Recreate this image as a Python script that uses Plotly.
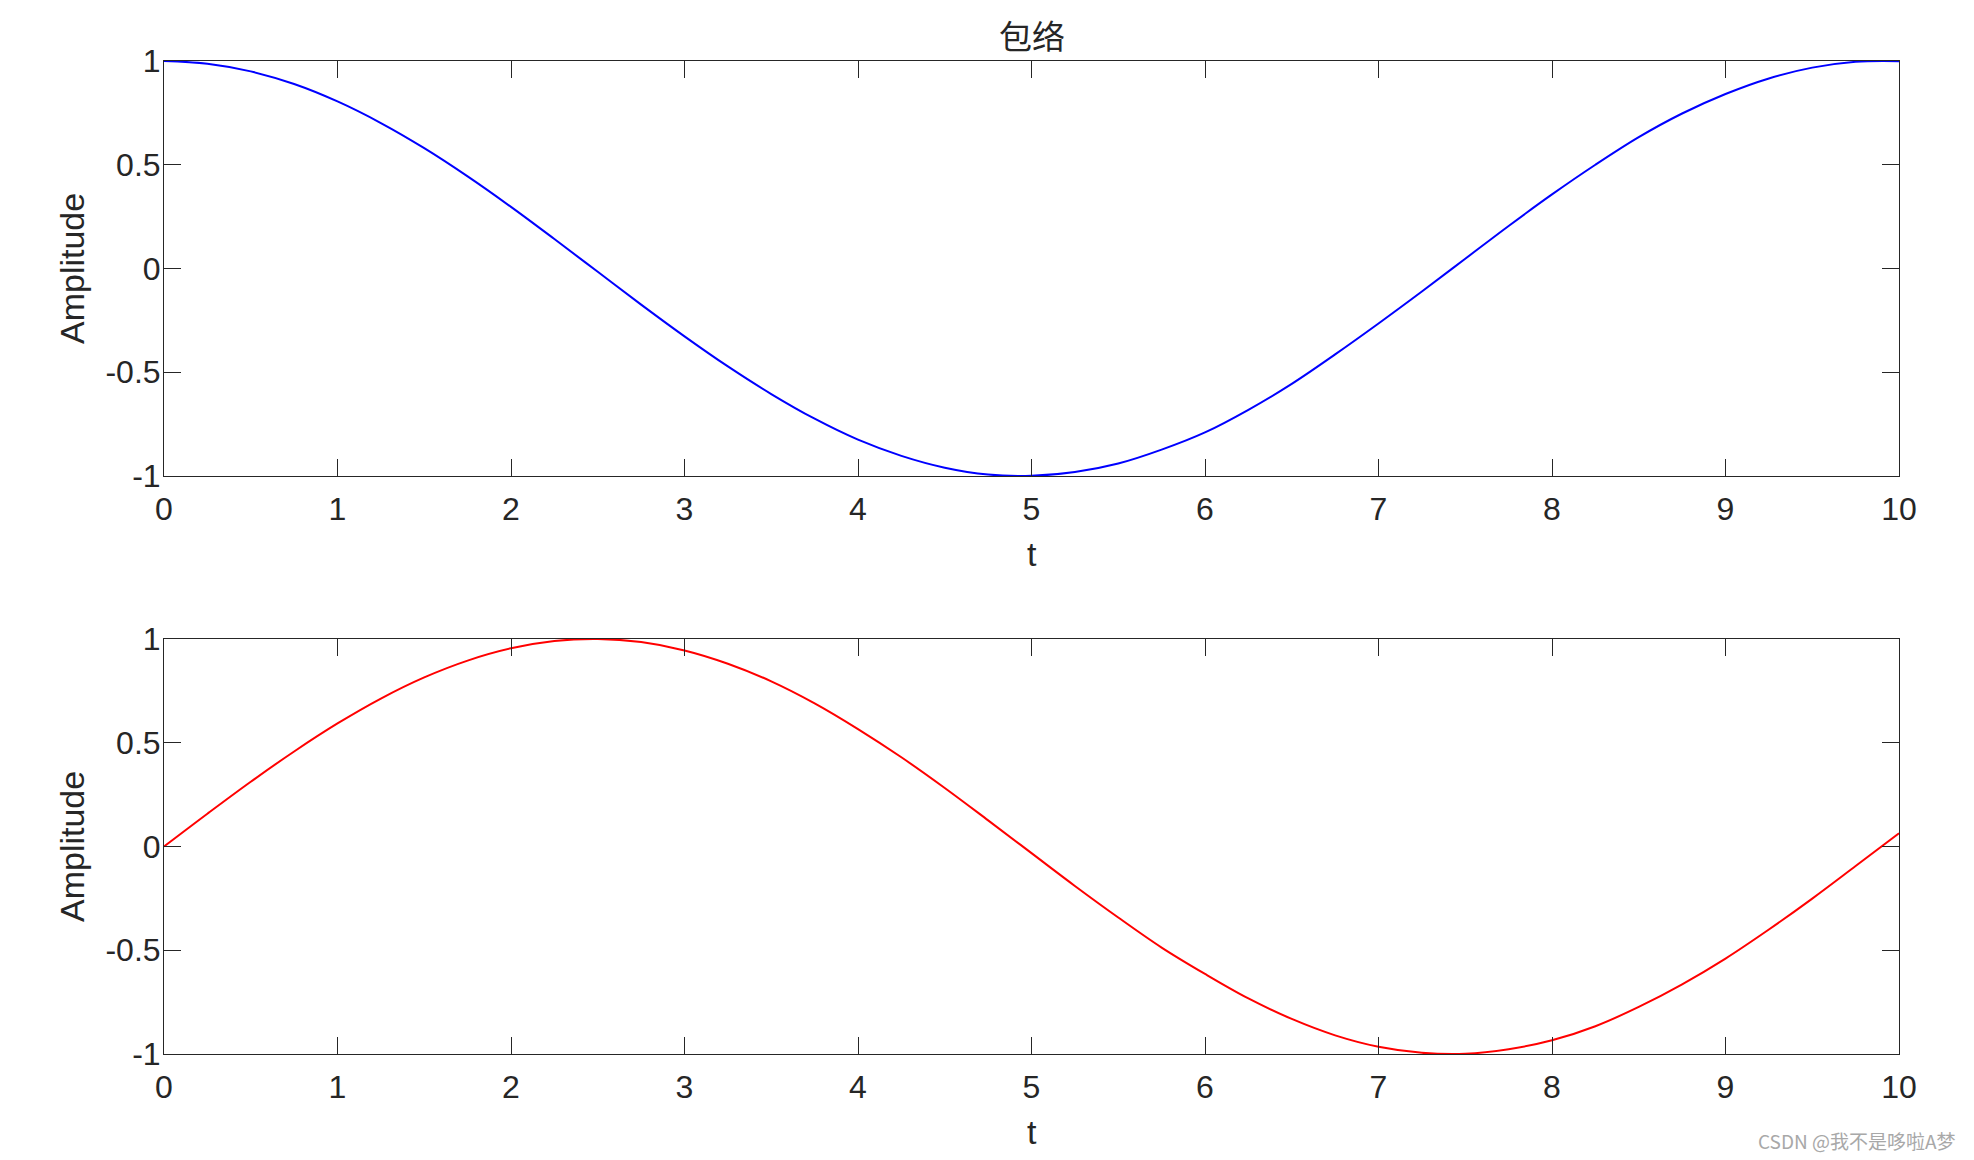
import plotly.graph_objects as go
from plotly.subplots import make_subplots

# values (t step 0.25)
t = [0, 0.25, 0.5, 0.75, 1, 1.25, 1.5, 1.75, 2, 2.25, 2.5, 2.75, 3, 3.25, 3.5, 3.75, 4, 4.25, 4.5, 4.75,
     5, 5.25, 5.5, 5.75, 6, 6.25, 6.5, 6.75, 7, 7.25, 7.5, 7.75, 8, 8.25, 8.5, 8.75, 9, 9.25, 9.5, 9.75, 10]
envelope = [1.0, 0.987, 0.950, 0.889, 0.805, 0.701, 0.580, 0.444, 0.297, 0.142, -0.016, -0.174, -0.327,
            -0.472, -0.605, -0.724, -0.825, -0.903, -0.960, -0.993, -0.999, -0.981, -0.940, -0.873, -0.790,
            -0.681, -0.556, -0.414, -0.265, -0.111, 0.047, 0.205, 0.357, 0.500, 0.633, 0.747, 0.841, 0.916,
            0.968, 0.996, 0.999]
signal = [0.0, 0.158, 0.312, 0.458, 0.593, 0.713, 0.815, 0.896, 0.955, 0.990, 1.0, 0.985, 0.945, 0.881,
          0.796, 0.690, 0.566, 0.430, 0.282, 0.126, -0.032, -0.190, -0.342, -0.487, -0.614, -0.732, -0.831,
          -0.910, -0.965, -0.994, -0.999, -0.977, -0.934, -0.866, -0.773, -0.664, -0.540, -0.400, -0.251,
          -0.094, 0.064]

x_ticks = list(range(0, 11))
y_ticks = [-1, -0.5, 0, 0.5, 1]
y_labels = ["-1", "-0.5", "0", "0.5", "1"]

# plot box in page pixels (page has 8px body margin)
OFF = 8
L, R, T, B = 164, 1899, 61, 1054
def px(x):
    return (x - L) / (R - L)
def py(y):
    return (B - y) / (B - T)

fig = make_subplots(rows=2, cols=1, vertical_spacing=py(477) - py(640))
fig.add_trace(go.Scatter(x=t, y=envelope, mode="lines", line=dict(color="#0000FF", width=2, shape="spline"),
                         showlegend=False), row=1, col=1)
fig.add_trace(go.Scatter(x=t, y=signal, mode="lines", line=dict(color="#FF0000", width=2, shape="spline"),
                         showlegend=False), row=2, col=1)

axis_font = dict(family="Arial, Liberation Sans, sans-serif", size=32, color="#262626")
label_font = dict(family="Arial, Liberation Sans, sans-serif", size=34, color="#262626")
for r in (1, 2):
    fig.update_xaxes(range=[0, 10], tickvals=x_ticks, ticks="inside", ticklen=17, tickcolor="#262626",
                     showline=True, linecolor="#262626", linewidth=1, mirror="ticks", showgrid=False,
                     zeroline=False, tickfont=axis_font, automargin=False, ticklabelstandoff=5,
                     row=r, col=1)
    fig.update_yaxes(range=[-1, 1], tickvals=y_ticks, ticktext=y_labels, ticks="inside", ticklen=17,
                     tickcolor="#262626", showline=True, linecolor="#262626", linewidth=1, mirror="ticks",
                     showgrid=False, zeroline=False, tickfont=axis_font, automargin=False,
                     ticklabelstandoff=-4, row=r, col=1)

notes = [
    dict(text="包络", x=0.5, y=py(35), font=dict(family="Noto Sans CJK SC", size=33, color="#262626")),
    dict(text="t", x=0.5, y=py(554), font=label_font),
    dict(text="t", x=0.5, y=py(1132), font=label_font),
    dict(text="Amplitude", x=px(72), y=py(269), textangle=-90, font=label_font),
    dict(text="Amplitude", x=px(72), y=py(847), textangle=-90, font=label_font),
    dict(text="CSDN @我不是哆啦A梦", x=px(1958), y=py(1140), xanchor="right",
         font=dict(family="Noto Sans CJK SC, Arial", size=19, color="#a8a8a8")),
]
for n in notes:
    n.setdefault("xanchor", "center")
    fig.add_annotation(xref="paper", yref="paper", yanchor="middle", showarrow=False, **n)

fig.update_layout(
    width=1974 - OFF, height=1160 - OFF,
    margin=dict(l=L - OFF, r=1974 - R, t=T - OFF, b=1160 - B),
    plot_bgcolor="white", paper_bgcolor="white",
)

fig.write_html("out.html")
